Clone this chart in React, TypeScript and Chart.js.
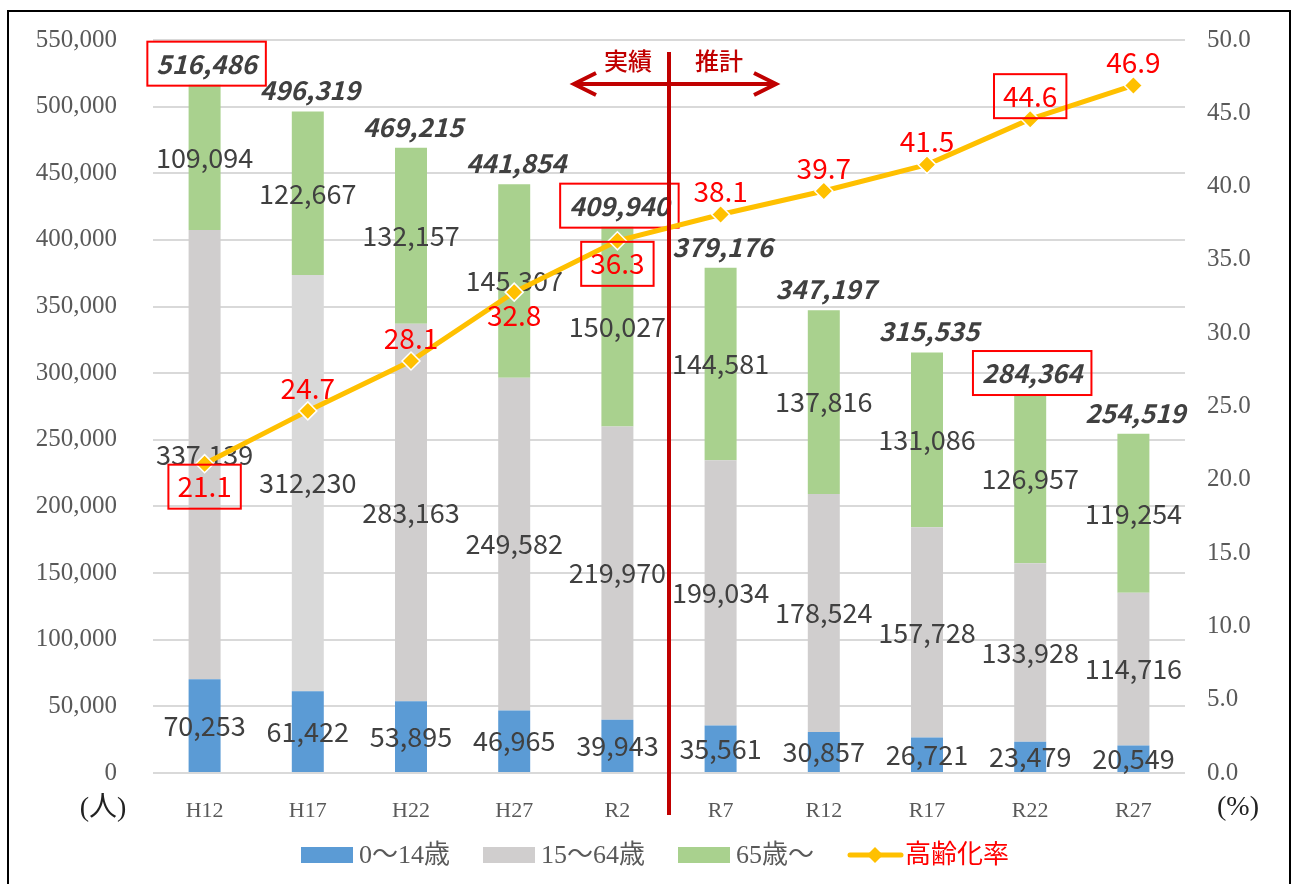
import React, { useEffect, useRef } from 'react';
import { Chart, registerables } from 'chart.js';

Chart.register(...registerables);

// ---- data ----
const categories = ['H12', 'H17', 'H22', 'H27', 'R2', 'R7', 'R12', 'R17', 'R22', 'R27'];
const age0to14 = [70253, 61422, 53895, 46965, 39943, 35561, 30857, 26721, 23479, 20549];
const age15to64 = [337139, 312230, 283163, 249582, 219970, 199034, 178524, 157728, 133928, 114716];
const age65plus = [109094, 122667, 132157, 145307, 150027, 144581, 137816, 131086, 126957, 119254];
const agingRate = [21.1, 24.7, 28.1, 32.8, 36.3, 38.1, 39.7, 41.5, 44.6, 46.9];
const seriesNames = ['0～14歳', '15～64歳', '65歳～', '高齢化率'];
const highlightedCategories = ['H12', 'R2', 'R22'];
const rateLabelsBelow = ['H12', 'H27', 'R2'];
const periodLabels = ['実績', '推計'];
const lastActualCategory = 'R2';
const leftAxisTitle = '(人)';
const rightAxisTitle = '(%)';

// ---- styles ----
const BLUE = '#5B9BD5';
const GRAY = '#D0CECE';
const GRAY_LIGHT = '#D9D9D9';
const GREEN = '#A9D18E';
const GOLD = '#FFC000';
const RED = '#FF0000';
const DARK_RED = '#C00000';
const TEXT = '#404040';
const AXIS_TEXT = '#595959';
const SANS = '"Noto Sans CJK JP", "Noto Sans", sans-serif';
const SERIF = '"Liberation Serif", "Noto Sans CJK JP", serif';

const fmt = (v: number) => v.toLocaleString('en-US');

const overlay = {
  id: 'overlay',
  afterDatasetDraw(chart: any, args: any) {
    if (args.index !== 0) return;
    const ctx = chart.ctx as CanvasRenderingContext2D;
    ctx.save();
    ctx.textAlign = 'center';
    ctx.textBaseline = 'middle';
    ctx.fillStyle = TEXT;
    ctx.font = `27px ${SANS}`;
    for (let d = 0; d < 3; d++) {
      const meta = chart.getDatasetMeta(d);
      meta.data.forEach((el: any, i: number) => {
        const p = el.getProps(['x', 'y', 'base'], true);
        ctx.fillText(fmt(chart.data.datasets[d].data[i]), p.x, (p.y + p.base) / 2);
      });
    }
    // totals
    ctx.font = `italic bold 26px ${SANS}`;
    const topMeta = chart.getDatasetMeta(2);
    topMeta.data.forEach((el: any, i: number) => {
      const total = age0to14[i] + age15to64[i] + age65plus[i];
      const txt = fmt(total);
      const cy = el.y - 21;
      ctx.fillStyle = TEXT;
      ctx.fillText(txt, el.x + 2, cy);
      if (highlightedCategories.includes(categories[i])) {
        const w = ctx.measureText(txt).width + 18;
        ctx.strokeStyle = RED;
        ctx.lineWidth = 2;
        ctx.strokeRect(el.x + 2 - w / 2, cy - 22, w, 44);
      }
    });
    ctx.restore();
  },
  afterDatasetsDraw(chart: any) {
    const ctx = chart.ctx as CanvasRenderingContext2D;
    const area = chart.chartArea;
    const xs = chart.scales.x;
    ctx.save();
    // rate labels
    ctx.textAlign = 'center';
    ctx.textBaseline = 'middle';
    ctx.font = `28px ${SANS}`;
    const lineMeta = chart.getDatasetMeta(3);
    lineMeta.data.forEach((el: any, i: number) => {
      const txt = agingRate[i].toFixed(1);
      const below = rateLabelsBelow.includes(categories[i]);
      const cy = below ? el.y + 23 : el.y - 23;
      ctx.fillStyle = RED;
      ctx.fillText(txt, el.x, cy);
      if (highlightedCategories.includes(categories[i])) {
        const w = ctx.measureText(txt).width + 18;
        ctx.strokeStyle = RED;
        ctx.lineWidth = 2;
        ctx.strokeRect(el.x - w / 2, cy - 22, w, 44);
      }
    });

    // divider between actual and projection
    const idx = categories.indexOf(lastActualCategory);
    const dx = (xs.getPixelForValue(idx) + xs.getPixelForValue(idx + 1)) / 2;
    ctx.strokeStyle = DARK_RED;
    ctx.lineWidth = 4;
    ctx.beginPath();
    ctx.moveTo(dx, area.top + 12);
    ctx.lineTo(dx, area.bottom + 42);
    ctx.stroke();
    const ay = area.top + 44;
    const lx = dx - 95;
    const rx = dx + 107;
    ctx.beginPath();
    ctx.moveTo(lx, ay);
    ctx.lineTo(rx, ay);
    ctx.moveTo(lx + 22, ay - 11);
    ctx.lineTo(lx, ay);
    ctx.lineTo(lx + 22, ay + 11);
    ctx.moveTo(rx - 22, ay - 11);
    ctx.lineTo(rx, ay);
    ctx.lineTo(rx - 22, ay + 11);
    ctx.lineJoin = 'miter';
    ctx.stroke();
    ctx.fillStyle = DARK_RED;
    ctx.font = `500 24px ${SANS}`;
    ctx.fillText(periodLabels[0], dx - 41, area.top + 21);
    ctx.fillText(periodLabels[1], dx + 50, area.top + 21);

    // axis titles
    ctx.fillStyle = '#222222';
    ctx.font = `28px ${SERIF}`;
    ctx.fillText(leftAxisTitle, area.left - 50, area.bottom + 36);
    ctx.fillText(rightAxisTitle, area.right + 53, area.bottom + 35);

    // legend
    const items = [
      { kind: 'box', color: BLUE, text: seriesNames[0], tc: AXIS_TEXT },
      { kind: 'box', color: GRAY, text: seriesNames[1], tc: AXIS_TEXT },
      { kind: 'box', color: GREEN, text: seriesNames[2], tc: AXIS_TEXT },
      { kind: 'line', color: GOLD, text: seriesNames[3], tc: RED },
    ];
    ctx.font = `26px ${SERIF}`;
    const symW = 52;
    const gapSym = 6;
    const gapItem = 33;
    const widths = items.map((it) => symW + gapSym + ctx.measureText(it.text).width);
    const total = widths.reduce((a, b) => a + b, 0) + gapItem * (items.length - 1);
    let x = 655 - total / 2;
    const ly = 855;
    ctx.textAlign = 'left';
    items.forEach((it, i) => {
      if (it.kind === 'box') {
        ctx.fillStyle = it.color;
        ctx.fillRect(x, ly - 8, symW, 16);
      } else {
        ctx.strokeStyle = it.color;
        ctx.lineWidth = 5;
        ctx.lineCap = 'round';
        ctx.beginPath();
        ctx.moveTo(x + 3, ly);
        ctx.lineTo(x + symW + 2, ly);
        ctx.stroke();
        ctx.fillStyle = it.color;
        ctx.beginPath();
        const cx = x + symW / 2 + 2;
        ctx.moveTo(cx - 8, ly);
        ctx.lineTo(cx, ly - 8);
        ctx.lineTo(cx + 8, ly);
        ctx.lineTo(cx, ly + 8);
        ctx.closePath();
        ctx.fill();
      }
      ctx.fillStyle = it.tc;
      ctx.fillText(it.text, x + symW + gapSym, ly + 1);
      x += widths[i] + gapItem;
    });

    // outer border
    ctx.strokeStyle = '#000000';
    ctx.lineWidth = 2;
    ctx.strokeRect(8, 11, 1282, 890);
    ctx.restore();
  },
};

export default function App() {
  const ref = useRef<HTMLCanvasElement>(null);
  useEffect(() => {
    const canvas = ref.current;
    if (!canvas) return;
    const chart = new Chart(canvas, {
      type: 'bar',
      data: {
        labels: categories,
        datasets: [
          {
            type: 'bar',
            label: seriesNames[0],
            data: age0to14,
            backgroundColor: BLUE,
            stack: 'pop',
            yAxisID: 'y',
            order: 1,
            barPercentage: 0.31,
            categoryPercentage: 1,
          },
          {
            type: 'bar',
            label: seriesNames[1],
            data: age15to64,
            backgroundColor: categories.map((c) => (c === 'H17' ? GRAY_LIGHT : GRAY)),
            stack: 'pop',
            yAxisID: 'y',
            order: 1,
            barPercentage: 0.31,
            categoryPercentage: 1,
          },
          {
            type: 'bar',
            label: seriesNames[2],
            data: age65plus,
            backgroundColor: GREEN,
            stack: 'pop',
            yAxisID: 'y',
            order: 1,
            barPercentage: 0.31,
            categoryPercentage: 1,
          },
          {
            type: 'line',
            label: seriesNames[3],
            data: agingRate,
            yAxisID: 'y1',
            borderColor: GOLD,
            borderWidth: 5,
            pointStyle: 'rectRot',
            pointRadius: 9,
            pointBackgroundColor: GOLD,
            pointBorderColor: '#FFFFFF',
            pointBorderWidth: 1.5,
            tension: 0,
            order: 0,
          } as any,
        ],
      },
      options: {
        responsive: false,
        animation: false,
        devicePixelRatio: 1,
        layout: { autoPadding: false, padding: { top: 40, left: 0, right: 0, bottom: 0 } },
        plugins: {
          legend: { display: false },
          tooltip: { enabled: false },
        },
        scales: {
          x: {
            stacked: true,
            grid: { display: false },
            border: { display: false },
            ticks: { color: AXIS_TEXT, font: { family: SERIF, size: 22 }, padding: 17 },
            afterFit: (s: any) => {
              s.height = 111;
              s.paddingLeft = 0;
              s.paddingRight = 0;
            },
          },
          y: {
            stacked: true,
            position: 'left',
            min: 0,
            max: 550000,
            ticks: {
              stepSize: 50000,
              color: AXIS_TEXT,
              font: { family: SERIF, size: 25 },
              padding: 36,
              callback: (v: any) => fmt(Number(v)),
            },
            grid: { color: GRAY_LIGHT, lineWidth: 2, drawTicks: false },
            border: { display: false },
            afterFit: (s: any) => {
              s.width = 153;
              s.paddingTop = 0;
              s.paddingBottom = 0;
            },
          },
          y1: {
            position: 'right',
            min: 0,
            max: 50,
            ticks: {
              stepSize: 5,
              color: AXIS_TEXT,
              font: { family: SERIF, size: 25 },
              padding: 22,
              callback: (v: any) => Number(v).toFixed(1),
            },
            grid: { display: false, drawTicks: false },
            border: { display: false },
            afterFit: (s: any) => {
              s.width = 110;
              s.paddingTop = 0;
              s.paddingBottom = 0;
            },
          },
        },
      } as any,
      plugins: [overlay],
    });
    return () => chart.destroy();
  }, []);
  return (
    <div style={{ position: 'absolute', left: 0, top: 0, width: 1295, height: 884, background: '#ffffff' }}>
      <canvas ref={ref} width={1295} height={884} style={{ display: 'block' }} />
    </div>
  );
}
